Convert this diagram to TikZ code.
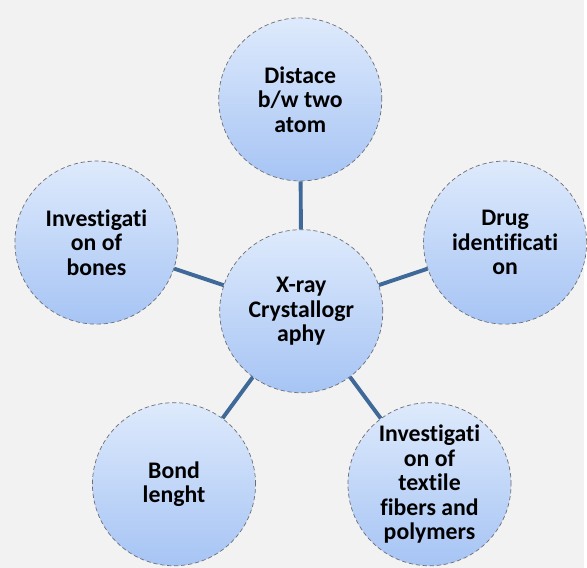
\documentclass[tikz,border=0pt]{standalone}
\usepackage{fontspec}
\setmainfont{Carlito}[Ligatures=NoCommon]
\usetikzlibrary{positioning}
\definecolor{paper}{RGB}{242,242,242}
\definecolor{skytop}{RGB}{222,234,252}
\definecolor{skybot}{RGB}{166,196,244}
\definecolor{rim}{RGB}{110,110,115}
\definecolor{spoke}{RGB}{62,105,152}

\tikzset{
  bubble/.style={circle,minimum size=4.1cm,inner sep=0pt,align=center,
    top color=skytop,bottom color=skybot,draw=rim,densely dashed,line width=0.5pt,
    font=\fontsize{17}{17.5}\selectfont\bfseries},
  link/.style={draw=spoke,line width=2.8pt}
}

\begin{document}
\begin{tikzpicture}[x=0.025cm,y=-0.025cm]
    \fill[paper] (0,0) rectangle (587,571);
    \node[bubble] (hub) at (303,313) {X-ray\\Crystallogr\\aphy};
    \foreach \x/\y/\t [count=\i] in {
      302/100/{Distace\\b/w two\\atom},
      508/244/{Drug\\identificati\\on},
      432/487/{Investigati\\on of\\textile\\fibers and\\polymers},
      175/487/{Bond\\lenght},
      97/244/{Investigati\\on of\\bones}}
    {
      \node[bubble] (leaf\i) at (\x,\y) {\t};
      \path[link] (hub) -- (leaf\i);
    }
  \end{tikzpicture}
\end{document}
